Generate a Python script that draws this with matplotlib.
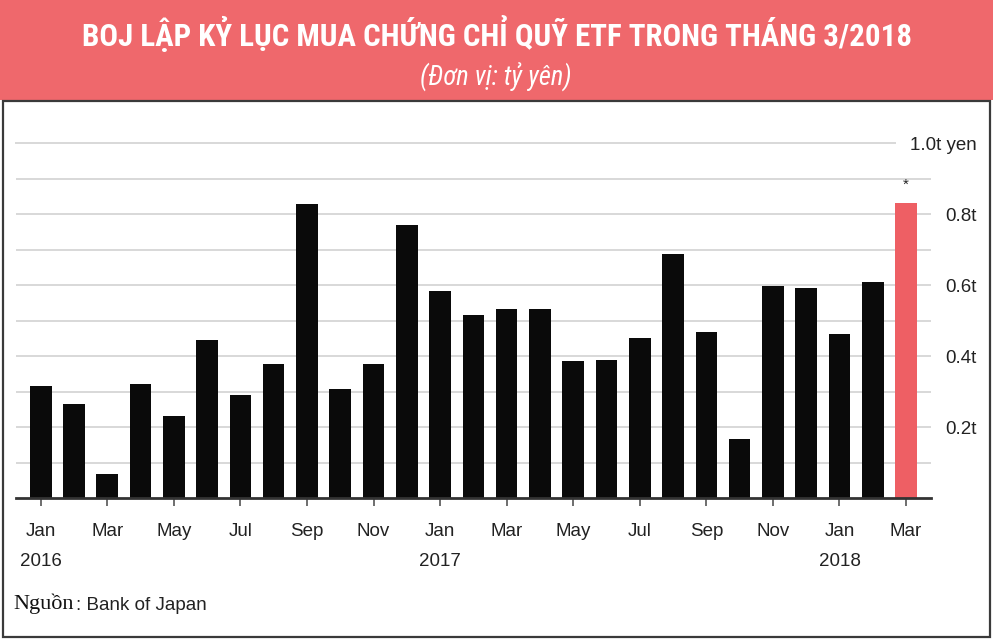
import matplotlib
matplotlib.use("Agg")
import matplotlib.pyplot as plt
from matplotlib import font_manager as fm
from matplotlib.patches import Rectangle
import numpy as np

# ---------------- data ----------------
months = ["Jan", "Feb", "Mar", "Apr", "May", "Jun", "Jul", "Aug", "Sep", "Oct", "Nov", "Dec",
          "Jan", "Feb", "Mar", "Apr", "May", "Jun", "Jul", "Aug", "Sep", "Oct", "Nov", "Dec",
          "Jan", "Feb", "Mar"]
years = {0: "2016", 12: "2017", 24: "2018"}
values = [0.317, 0.266, 0.068, 0.322, 0.233, 0.446, 0.292, 0.377, 0.828, 0.309, 0.377, 0.769,
          0.584, 0.516, 0.532, 0.532, 0.386, 0.390, 0.451, 0.687, 0.468, 0.166, 0.597, 0.592,
          0.464, 0.609, 0.833]
ytick_vals = [0.2, 0.4, 0.6, 0.8, 1.0]
ytick_labels = ["0.2t", "0.4t", "0.6t", "0.8t", "1.0t yen"]
title = "BOJ LẬP KỶ LỤC MUA CHỨNG CHỈ QUỸ ETF TRONG THÁNG 3/2018"
subtitle = "(Đơn vị: tỷ yên)"
source_a = "Nguồn"
source_b = ": Bank of Japan"

HEADER = "#EF686C"
HIGHLIGHT = "#EE5F64"
BAR = "#0a0a0a"
GRID = "#d8d8d8"
TXT = "#222222"

W, H = 993, 639
fig = plt.figure(figsize=(W / 100, H / 100), dpi=100)
fig.patch.set_facecolor("white")

# ---------- fonts ----------
names = {f.name for f in fm.fontManager.ttflist}

def weight_num(f):
    if isinstance(f.weight, int):
        return f.weight
    return 700 if "bold" in str(f.weight).lower() else 400

def is_condensed(f):
    return (("Narrow" in f.name) or ("Condensed" in f.name) or ("Condensed" in f.fname)
            or ("Narrow" in f.fname) or str(f.stretch) in ("condensed", "semi-condensed", "extra-condensed"))

def pick(style, bold):
    cands = []
    for f in fm.fontManager.ttflist:
        if "Serif" in f.name or "Mono" in f.name or "Serif" in f.fname or "Mono" in f.fname:
            continue
        if not is_condensed(f) or f.style != style:
            continue
        w = weight_num(f)
        if bold and w >= 600 or (not bold and 350 <= w < 600):
            cands.append(f)
    for p in ["Roboto Condensed", "Liberation Sans Narrow", "Open Sans Condensed", "DejaVu Sans"]:
        for f in cands:
            if f.name == p:
                return fm.FontProperties(fname=f.fname)
    if cands:
        return fm.FontProperties(fname=cands[0].fname)
    return None

title_fp = pick("normal", True) or fm.FontProperties(family="DejaVu Sans", weight="bold")
sub_fp = pick("italic", False) or fm.FontProperties(family="Liberation Sans", style="italic")

sans = "Liberation Sans" if "Liberation Sans" in names else "DejaVu Sans"
serif = "Liberation Serif" if "Liberation Serif" in names else "DejaVu Serif"

# ---------- header band & frame ----------
fig.patches.append(Rectangle((0, 1 - 100 / H), 1, 100 / H, transform=fig.transFigure,
                             facecolor=HEADER, edgecolor="none", zorder=0))
fig.patches.append(Rectangle((2.5 / W, 2.5 / H), (990 - 2.5) / W, (636 - 100) / H,
                             transform=fig.transFigure, facecolor="none", edgecolor="#3a3a3a",
                             linewidth=1.6, zorder=1))

def fit_text(x, y, s, fp, target_w, color, size0=20):
    fp = fp.copy()
    fp.set_size(size0)
    t = fig.text(x, y, s, fontproperties=fp, color=color, ha="center", va="center")
    fig.canvas.draw()
    w = t.get_window_extent().width
    fp.set_size(size0 * target_w / w)
    t.set_fontproperties(fp)
    return t

fit_text(497 / W, 1 - 33 / H, title, title_fp, 829, "white", 22)
fit_text(496 / W, 1 - 76 / H, subtitle, sub_fp, 152, "white", 16)

# ---------- axes ----------
x = np.arange(len(values))
left_px, right_px = 16, 931
base_px, top_px = 498.3, 143.3
ax = fig.add_axes([left_px / W, (H - base_px) / H, (right_px - left_px) / W, (base_px - top_px) / H])
ax.set_xlim(-0.742, 26.75)
ax.set_ylim(0, 1.0)

colors = [BAR] * (len(values) - 1) + [HIGHLIGHT]
ax.bar(x, values, width=0.65, color=colors, zorder=3)

for lv in np.arange(1, 10) / 10:
    ax.axhline(lv, color=GRID, lw=1.4, zorder=1)
ax.axhline(1.0, xmax=0.9607, color=GRID, lw=1.4, zorder=1, clip_on=False)

ax.text(x[-1], values[-1] + 0.05, "*", ha="center", va="center", fontsize=11, color=TXT, family=sans)

for s in ["top", "left", "right"]:
    ax.spines[s].set_visible(False)
ax.spines["bottom"].set_color("#333333")
ax.spines["bottom"].set_linewidth(2)
ax.spines["bottom"].set_zorder(4)

tick_pos = x[::2]
tick_lab = [months[i] + ("\n" + years[i] if i in years else "") for i in tick_pos]
ax.set_xticks(tick_pos)
ax.set_xticklabels(tick_lab, fontsize=13.5, color=TXT, family=sans, linespacing=1.95, va="top")
ax.tick_params(axis="x", length=6, width=1.2, color="#555555", pad=12)

ax.yaxis.tick_right()
ax.set_yticks(ytick_vals)
ax.set_yticklabels(ytick_labels, fontsize=13.5, color=TXT, family=sans, ha="right")
ax.tick_params(axis="y", length=0, pad=33)

# ---------- source ----------
fig.text(13 / W, 1 - 604 / H, source_a, fontsize=16, family=serif, color="#111111", va="center", ha="left")
fig.text(76 / W, 1 - 605 / H, source_b, fontsize=13.5, family=sans, color=TXT, va="center", ha="left")

fig.savefig("out.png", dpi=100, facecolor="white")
